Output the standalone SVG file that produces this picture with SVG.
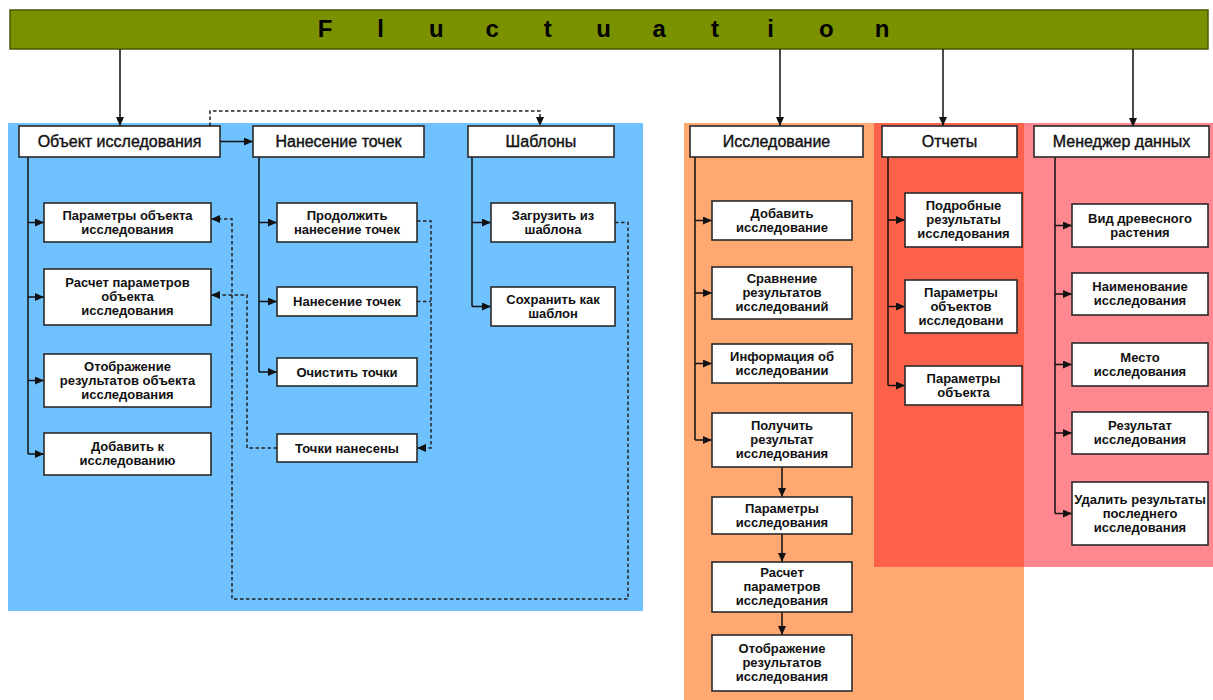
<svg xmlns="http://www.w3.org/2000/svg" width="1213" height="700" viewBox="0 0 1213 700">
<defs>
<marker id="arr" markerUnits="userSpaceOnUse" markerWidth="9" markerHeight="8" refX="9" refY="4" orient="auto">
<path d="M0,0 L9,4 L0,8 z" fill="#111"/>
</marker>
<style>
.box{fill:#fff;stroke:#2a2a2a;stroke-width:1.6}
.hd{font-family:"Liberation Sans",Arial,sans-serif;font-size:16px;fill:#111;stroke:#111;stroke-width:0.4;text-anchor:middle}
.t{font-family:"Liberation Sans",Arial,sans-serif;font-size:13px;font-weight:bold;fill:#111;text-anchor:middle}
.ln{fill:none;stroke:#111;stroke-width:1.5}
.ar{fill:none;stroke:#111;stroke-width:1.5;marker-end:url(#arr)}
.ds{fill:none;stroke:#222;stroke-width:1.5;stroke-dasharray:3.5 2.5}
.dsa{fill:none;stroke:#222;stroke-width:1.5;stroke-dasharray:3.5 2.5;marker-end:url(#arr)}
</style>
</defs>
<rect width="1213" height="700" fill="#fff"/>
<!-- background regions -->
<rect x="8" y="123" width="635" height="488" fill="#70C2FF"/>
<rect x="684" y="123" width="340" height="577" fill="#FFA872"/>
<rect x="874" y="123" width="150" height="444" fill="#FF624A"/>
<rect x="1024" y="123" width="189" height="444" fill="#FF8890"/>
<!-- banner -->
<g id="banner">
<rect x="10" y="10" width="1198" height="39" fill="#7A9100" stroke="#4A5800" stroke-width="1.5"/>
<text x="325 380.7 436.4 492.1 547.8 603.5 659.2 714.9 770.6 826.3 882" y="37" text-anchor="middle" font-family="Liberation Sans, Arial, sans-serif" font-weight="bold" font-size="24" fill="#000">Fluctuation</text>
</g>
<!-- connectors -->
<g id="connectors">
<path class="ar" d="M120 49 V126"/>
<path class="ar" d="M780 49 V126"/>
<path class="ar" d="M943 49 V126"/>
<path class="ar" d="M1133 49 V127"/>
<path class="ar" d="M220 141.5 H253"/>
<path class="dsa" d="M210 126 V111 H540 V126"/>
<!-- left trunk -->
<path class="ln" d="M28 157 V454"/>
<path class="ar" d="M28 222.5 H44"/>
<path class="ar" d="M28 297 H44"/>
<path class="ar" d="M28 380.5 H44"/>
<path class="ar" d="M28 454 H44"/>
<!-- nanesenie trunk -->
<path class="ln" d="M259 157 V372"/>
<path class="ar" d="M259 222.5 H277"/>
<path class="ar" d="M259 301.5 H277"/>
<path class="ar" d="M259 372 H277"/>
<!-- shablony trunk -->
<path class="ln" d="M472 157 V306.5"/>
<path class="ar" d="M472 222.5 H491"/>
<path class="ar" d="M472 306.5 H491"/>
<!-- dashed -->
<path class="dsa" d="M417 221 H431 V448 H417"/>
<path class="ds" d="M417 301.5 H431"/>
<path class="dsa" d="M277 448 H247 V295 H211"/>
<path class="dsa" d="M615 222.5 H628 V599 H232 V219 H211"/>
<!-- orange trunk -->
<path class="ln" d="M695 157 V440"/>
<path class="ar" d="M695 220.5 H712"/>
<path class="ar" d="M695 293 H712"/>
<path class="ar" d="M695 363.5 H712"/>
<path class="ar" d="M695 440 H712"/>
<path class="ar" d="M782 467 V497"/>
<path class="ar" d="M782 534 V562"/>
<path class="ar" d="M782 612 V635"/>
<!-- red trunk -->
<path class="ln" d="M888 157 V385.5"/>
<path class="ar" d="M888 220 H905"/>
<path class="ar" d="M888 306.5 H905"/>
<path class="ar" d="M888 385.5 H905"/>
<!-- pink trunk -->
<path class="ln" d="M1055 157 V513.5"/>
<path class="ar" d="M1055 225.5 H1072"/>
<path class="ar" d="M1055 294 H1072"/>
<path class="ar" d="M1055 364.5 H1072"/>
<path class="ar" d="M1055 433 H1072"/>
<path class="ar" d="M1055 513.5 H1072"/>
</g>
<!-- headers -->
<g id="obj"><rect class="box" x="19" y="126" width="201" height="31"/><text class="hd" x="119.5" y="147">Объект исследования</text></g>
<g id="nan"><rect class="box" x="253" y="126" width="171" height="31"/><text class="hd" x="338.5" y="147">Нанесение точек</text></g>
<g id="shab"><rect class="box" x="468" y="126" width="146" height="31"/><text class="hd" x="541" y="147">Шаблоны</text></g>
<g id="issl"><rect class="box" x="690" y="126" width="173" height="31"/><text class="hd" x="776.5" y="147">Исследование</text></g>
<g id="otch"><rect class="box" x="882" y="126" width="135" height="31"/><text class="hd" x="949.5" y="147">Отчеты</text></g>
<g id="men"><rect class="box" x="1034" y="126" width="175" height="31"/><text class="hd" x="1121.5" y="147">Менеджер данных</text></g>
<!-- left column -->
<g id="l1"><rect class="box" x="44" y="203" width="167" height="39"/><text class="t" x="127.5" y="219.5">Параметры объекта<tspan x="127.5" dy="14">исследования</tspan></text></g>
<g id="l2"><rect class="box" x="44" y="269" width="167" height="56"/><text class="t" x="127.5" y="287">Расчет параметров<tspan x="127.5" dy="14">объекта</tspan><tspan x="127.5" dy="14">исследования</tspan></text></g>
<g id="l3"><rect class="box" x="44" y="354" width="167" height="53"/><text class="t" x="127.5" y="370.5">Отображение<tspan x="127.5" dy="14">результатов объекта</tspan><tspan x="127.5" dy="14">исследования</tspan></text></g>
<g id="l4"><rect class="box" x="44" y="433" width="167" height="42"/><text class="t" x="127.5" y="451">Добавить к<tspan x="127.5" dy="14">исследованию</tspan></text></g>
<!-- nanesenie column -->
<g id="n1"><rect class="box" x="277" y="203" width="140" height="39"/><text class="t" x="347" y="219.5">Продолжить<tspan x="347" dy="14">нанесение точек</tspan></text></g>
<g id="n2"><rect class="box" x="277" y="287" width="140" height="29"/><text class="t" x="347" y="306">Нанесение точек</text></g>
<g id="n3"><rect class="box" x="277" y="358" width="140" height="28"/><text class="t" x="347" y="376.5">Очистить точки</text></g>
<g id="n4"><rect class="box" x="277" y="434" width="140" height="28"/><text class="t" x="347" y="452.5">Точки нанесены</text></g>
<!-- shablony column -->
<g id="s1"><rect class="box" x="491" y="203" width="124" height="39"/><text class="t" x="553" y="219.5">Загрузить из<tspan x="553" dy="14">шаблона</tspan></text></g>
<g id="s2"><rect class="box" x="491" y="287" width="124" height="39"/><text class="t" x="553" y="303.5">Сохранить как<tspan x="553" dy="14">шаблон</tspan></text></g>
<!-- orange column -->
<g id="o1"><rect class="box" x="712" y="201" width="140" height="39"/><text class="t" x="782" y="217.5">Добавить<tspan x="782" dy="14">исследование</tspan></text></g>
<g id="o2"><rect class="box" x="712" y="267" width="140" height="52"/><text class="t" x="782" y="283">Сравнение<tspan x="782" dy="14">результатов</tspan><tspan x="782" dy="14">исследований</tspan></text></g>
<g id="o3"><rect class="box" x="712" y="344" width="140" height="39"/><text class="t" x="782" y="360.5">Информация об<tspan x="782" dy="14">исследовании</tspan></text></g>
<g id="o4"><rect class="box" x="712" y="413" width="140" height="54"/><text class="t" x="782" y="430">Получить<tspan x="782" dy="14">результат</tspan><tspan x="782" dy="14">исследования</tspan></text></g>
<g id="o5"><rect class="box" x="712" y="497" width="140" height="37"/><text class="t" x="782" y="512.5">Параметры<tspan x="782" dy="14">исследования</tspan></text></g>
<g id="o6"><rect class="box" x="712" y="562" width="140" height="50"/><text class="t" x="782" y="577">Расчет<tspan x="782" dy="14">параметров</tspan><tspan x="782" dy="14">исследования</tspan></text></g>
<g id="o7"><rect class="box" x="712" y="635" width="140" height="56"/><text class="t" x="782" y="653">Отображение<tspan x="782" dy="14">результатов</tspan><tspan x="782" dy="14">исследования</tspan></text></g>
<!-- red column -->
<g id="r1"><rect class="box" x="905" y="193" width="117" height="54"/><text class="t" x="963.5" y="210">Подробные<tspan x="963.5" dy="14">результаты</tspan><tspan x="963.5" dy="14">исследования</tspan></text></g>
<g id="r2"><rect class="box" x="905" y="280" width="112" height="53"/><text class="t" x="961" y="296.5">Параметры<tspan x="961" dy="14">объектов</tspan><tspan x="961" dy="14">исследовани</tspan></text></g>
<g id="r3"><rect class="box" x="905" y="366" width="117" height="39"/><text class="t" x="963.5" y="382.5">Параметры<tspan x="963.5" dy="14">объекта</tspan></text></g>
<!-- pink column -->
<g id="p1"><rect class="box" x="1072" y="204" width="136" height="43"/><text class="t" x="1140" y="222.5">Вид древесного<tspan x="1140" dy="14">растения</tspan></text></g>
<g id="p2"><rect class="box" x="1072" y="273" width="136" height="42"/><text class="t" x="1140" y="291">Наименование<tspan x="1140" dy="14">исследования</tspan></text></g>
<g id="p3"><rect class="box" x="1072" y="343" width="136" height="43"/><text class="t" x="1140" y="361.5">Место<tspan x="1140" dy="14">исследования</tspan></text></g>
<g id="p4"><rect class="box" x="1072" y="412" width="136" height="42"/><text class="t" x="1140" y="430">Результат<tspan x="1140" dy="14">исследования</tspan></text></g>
<g id="p5"><rect class="box" x="1072" y="482" width="136" height="63"/><text class="t" x="1140" y="503.5" font-size="12">Удалить результаты<tspan x="1140" dy="14">последнего</tspan><tspan x="1140" dy="14">исследования</tspan></text></g>
</svg>
